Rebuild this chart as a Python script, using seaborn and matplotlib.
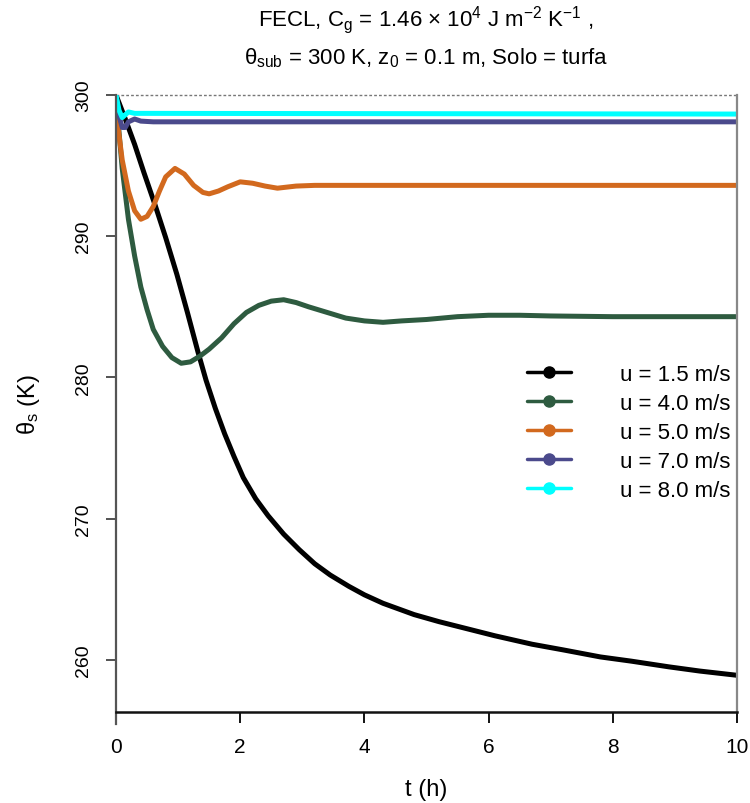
import numpy as np
import pandas as pd
import matplotlib
matplotlib.use("Agg")
import matplotlib.pyplot as plt
import seaborn as sns
from matplotlib.lines import Line2D

# ---- data ----
t_15 = [0, 0.15, 0.3, 0.45, 0.63, 0.8, 0.98, 1.15, 1.32, 1.45, 1.6, 1.75, 1.9, 2.05, 2.25, 2.45,
        2.7, 2.95, 3.2, 3.45, 3.75, 4.0, 4.3, 4.55, 4.8, 5.2, 5.65, 6.1, 6.7, 7.2, 7.8, 8.3, 8.9, 9.4, 10]
v_15 = [300, 298.3, 296.5, 294.5, 292.2, 289.9, 287.3, 284.6, 281.8, 279.8, 277.8, 276.0, 274.4,
        272.9, 271.4, 270.2, 268.9, 267.8, 266.8, 266.0, 265.2, 264.6, 264.0, 263.6, 263.2, 262.7,
        262.2, 261.7, 261.1, 260.7, 260.2, 259.9, 259.5, 259.2, 258.9]

t_40 = [0, 0.05, 0.1, 0.2, 0.3, 0.4, 0.5, 0.6, 0.75, 0.9, 1.05, 1.2, 1.35, 1.5, 1.7, 1.9, 2.1,
        2.3, 2.5, 2.7, 2.9, 3.1, 3.4, 3.7, 4.0, 4.3, 4.6, 5.0, 5.5, 6.0, 6.5, 7.0, 8.0, 10]
v_40 = [300, 297.3, 294.8, 291.2, 288.6, 286.4, 284.8, 283.4, 282.2, 281.4, 281.0, 281.1, 281.5,
        282.0, 282.8, 283.8, 284.6, 285.1, 285.4, 285.5, 285.3, 285.0, 284.6, 284.2, 284.0, 283.9,
        284.0, 284.1, 284.3, 284.4, 284.4, 284.35, 284.3, 284.3]

t_50 = [0, 0.03, 0.1, 0.2, 0.3, 0.4, 0.5, 0.6, 0.7, 0.8, 0.95, 1.1, 1.25, 1.4, 1.5, 1.65, 1.8,
        2.0, 2.2, 2.4, 2.6, 2.9, 3.2, 4.0, 10]
v_50 = [300, 297.8, 295.4, 293.2, 291.8, 291.2, 291.4, 292.1, 293.2, 294.2, 294.8, 294.4, 293.6,
        293.1, 293.0, 293.2, 293.5, 293.85, 293.75, 293.55, 293.4, 293.55, 293.6, 293.6, 293.6]

t_70 = [0, 0.05, 0.1, 0.15, 0.2, 0.3, 0.4, 0.6, 10]
v_70 = [300, 298.5, 297.7, 297.7, 298.1, 298.3, 298.15, 298.1, 298.1]

t_80 = [0, 0.05, 0.1, 0.15, 0.2, 0.3, 10]
v_80 = [300, 298.9, 298.4, 298.6, 298.8, 298.7, 298.65]

labels = ["u = 1.5 m/s", "u = 4.0 m/s", "u = 5.0 m/s", "u = 7.0 m/s", "u = 8.0 m/s"]
colors = ["#000000", "#2E5B40", "#D2691E", "#4B4A8C", "#00FFFF"]
series_t = [t_15, t_40, t_50, t_70, t_80]
series_v = [v_15, v_40, v_50, v_70, v_80]

frames = []
for lab, tt, vv in zip(labels, series_t, series_v):
    frames.append(pd.DataFrame({"t": tt, "theta": vv, "serie": lab}))
df = pd.concat(frames, ignore_index=True)

sns.set_theme(style="white")
plt.rcParams["font.family"] = ["Liberation Sans", "DejaVu Sans"]
plt.rcParams["mathtext.fontset"] = "custom"
plt.rcParams["mathtext.rm"] = "Liberation Sans"
plt.rcParams["mathtext.it"] = "Liberation Sans"
plt.rcParams["mathtext.bf"] = "Liberation Sans:bold"
plt.rcParams["text.color"] = "black"
plt.rcParams["axes.labelcolor"] = "black"
plt.rcParams["xtick.color"] = "black"
plt.rcParams["ytick.color"] = "black"

fig = plt.figure(figsize=(7.5, 8.04), dpi=100)
ax = fig.add_axes([116 / 750, 1 - 713 / 804, (737 - 116) / 750, (713 - 96) / 804])

sns.lineplot(data=df, x="t", y="theta", hue="serie", hue_order=labels,
             palette=dict(zip(labels, colors)), linewidth=3.6, ax=ax,
             estimator=None, sort=True, legend=False)

ax.set_xlim(0, 10)
ax.set_ylim(256.3, 300)
ax.set_xticks([0, 2, 4, 6, 8, 10])
ax.set_yticks([260, 270, 280, 290, 300])

ax.spines["top"].set_visible(False)
ax.axhline(300, color="#777777", lw=1.0, ls=(0, (2, 1.5)), zorder=0.5, clip_on=False)
ax.spines["left"].set_color("#555555")
ax.spines["left"].set_linewidth(1.6)
ax.spines["left"].set_bounds(255.45, 300)
ax.spines["right"].set_color("#888888")
ax.spines["right"].set_linewidth(1.6)
ax.spines["bottom"].set_color("#111111")
ax.spines["bottom"].set_linewidth(1.8)

ax.tick_params(axis="x", direction="out", length=8, width=1.3, colors="black",
               labelsize=15, pad=10, bottom=True)
ax.tick_params(axis="y", direction="out", length=7, width=1.3, colors="black",
               labelsize=14, pad=10, left=True)
ax.tick_params(axis="y", color="#444444")
for lbl in ax.get_yticklabels():
    lbl.set_rotation(90)
    lbl.set_va("center")
    lbl.set_ha("right")

ax.set_xlabel("t (h)", fontsize=17, labelpad=16)
ax.set_ylabel(r"$\theta_{\mathrm{s}}$ (K)", fontsize=17, labelpad=24)

fig.text(0.568, 0.975, r"FECL, C$_\mathrm{g}$ = 1.46 $\times$ 10$^4$ J m$^{-2}$ K$^{-1}$ ,",
         ha="center", va="center", fontsize=16)
fig.text(0.568, 0.927, r"$\theta_{\mathrm{sub}}$ = 300 K, z$_0$ = 0.1 m, Solo = turfa",
         ha="center", va="center", fontsize=16)

handles = [Line2D([0], [0], color=c, lw=2.5, marker="o", markersize=8) for c in colors]
leg = ax.legend(handles, labels, loc="upper right", bbox_to_anchor=(1.021, 0.597),
                frameon=False, fontsize=16, handlelength=1.95, handletextpad=2.2,
                labelspacing=0.36)

fig.savefig("out.png", dpi=100)
